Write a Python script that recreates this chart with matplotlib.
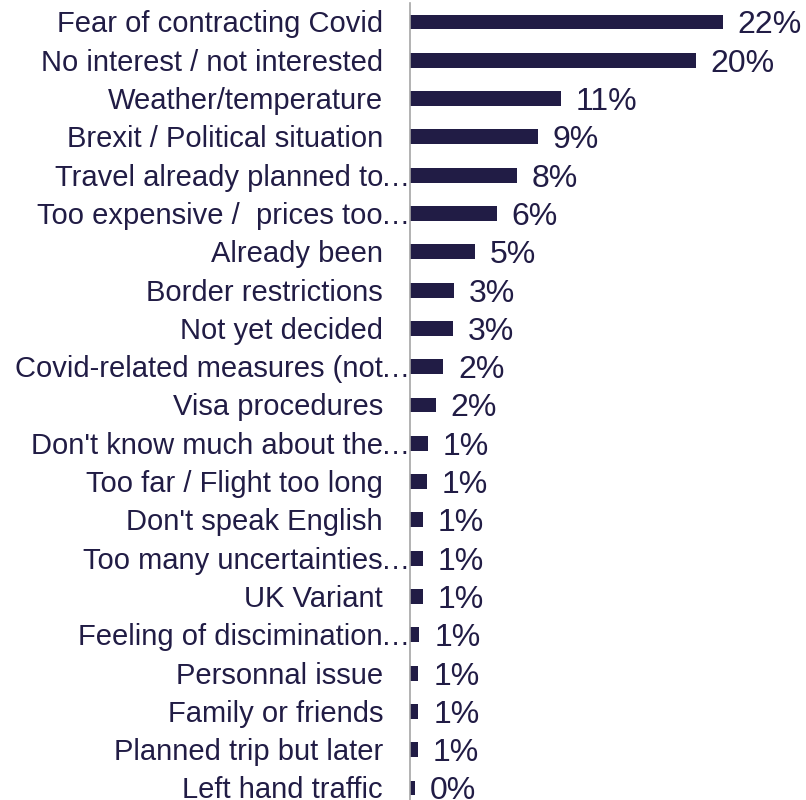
import matplotlib
matplotlib.use("Agg")
import matplotlib.pyplot as plt
from matplotlib.transforms import offset_copy

reasons = [
    "Fear of contracting Covid",
    "No interest / not interested",
    "Weather/temperature",
    "Brexit / Political situation",
    "Travel already planned to…",
    "Too expensive /  prices too…",
    "Already been",
    "Border restrictions",
    "Not yet decided",
    "Covid-related measures (not…",
    "Visa procedures",
    "Don't know much about the…",
    "Too far / Flight too long",
    "Don't speak English",
    "Too many uncertainties…",
    "UK Variant",
    "Feeling of discimination…",
    "Personnal issue",
    "Family or friends",
    "Planned trip but later",
    "Left hand traffic",
]
shares = [22.0, 20.1, 10.6, 9.0, 7.5, 6.1, 4.55, 3.1, 3.0, 2.35, 1.8,
          1.25, 1.17, 0.9, 0.9, 0.9, 0.66, 0.59, 0.59, 0.55, 0.35]

navy = "#211c45"
W, H = 806, 800
fig = plt.figure(figsize=(W / 100, H / 100), dpi=100)

row_top, row_step = 22.0, 38.3
n = len(reasons)
top_px = row_top - row_step / 2
bot_px = row_top + row_step * (n - 0.5)
ax_left, ax_right = 410, 800
ax = fig.add_axes([ax_left / W, (H - bot_px) / H, (ax_right - ax_left) / W,
                   (bot_px - top_px) / H])

px_per_unit = 312.7 / 22.0
ax.set_xlim(0, (ax_right - ax_left) / px_per_unit)
ax.set_ylim(n - 0.5, -0.5)

ys = list(range(n))
ax.barh(ys, shares, height=0.39, color=navy, left=0.0)

for s in ["top", "right", "bottom"]:
    ax.spines[s].set_visible(False)
ax.spines["left"].set_color("#a6a6a6")
ax.spines["left"].set_linewidth(1.2)
ax.set_xticks([])
ax.set_yticks([])

font = "Liberation Sans"
lab_size, val_size = 21, 23
# baseline offsets that put the cap height centred on each bar
lab_drop = -lab_size * 100 / 72 * 0.716 / 2
val_drop = -val_size * 100 / 72 * 0.716 / 2

label_tr = offset_copy(ax.transData, fig=fig, x=-27, y=lab_drop, units="dots")
ell_tr = offset_copy(ax.transData, fig=fig, x=-29, y=lab_drop, units="dots")
for y, name in zip(ys, reasons):
    main = name.rstrip("…")
    ax.text(0, y, main, transform=label_tr, ha="right", va="baseline",
            fontsize=lab_size, family=font, color=navy, clip_on=False)
    if name.endswith("…"):
        ax.text(0, y, "…", transform=ell_tr, ha="left", va="baseline",
                fontsize=lab_size, family=font, color=navy, clip_on=False)

val_tr = offset_copy(ax.transData, fig=fig, x=15, y=val_drop, units="dots")
for y, v in zip(ys, shares):
    ax.text(v, y, f"{round(v):d}%", transform=val_tr, ha="left", va="baseline",
            fontsize=val_size, family=font, color=navy, clip_on=False)

fig.savefig("out.png", dpi=100)
